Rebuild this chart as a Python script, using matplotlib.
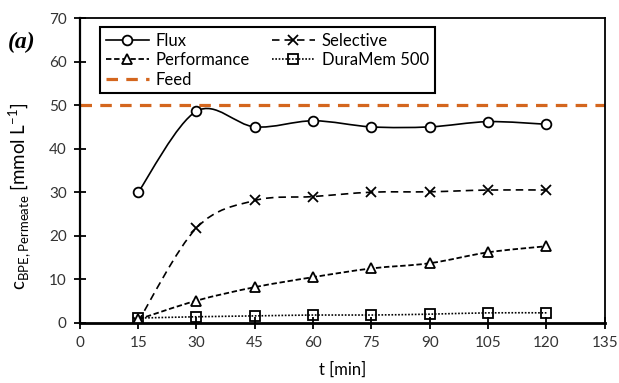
import matplotlib
matplotlib.use("Agg")
import matplotlib.pyplot as plt
from matplotlib.path import Path
from matplotlib.patches import PathPatch
from matplotlib.lines import Line2D
import numpy as np

t = [15, 30, 45, 60, 75, 90, 105, 120]
flux = [30.0, 48.6, 45.0, 46.4, 45.0, 45.0, 46.2, 45.6]
selective = [0.3, 21.8, 28.1, 29.0, 30.0, 30.1, 30.5, 30.5]
performance = [0.8, 5.1, 8.2, 10.5, 12.5, 13.7, 16.2, 17.6]
duramem = [1.1, 1.4, 1.6, 1.8, 1.8, 2.0, 2.3, 2.3]
feed = 50
xticks = [0, 15, 30, 45, 60, 75, 90, 105, 120, 135]
yticks = [0, 10, 20, 30, 40, 50, 60, 70]

plt.rcParams['font.family'] = ['Lato', 'DejaVu Sans']

fig = plt.figure(figsize=(6.19, 3.83), dpi=100)
ax = fig.add_axes([0.129, 0.157, 0.848, 0.796])


def smooth_path(x, y):
    pts = np.column_stack([x, y]).astype(float)
    n = len(pts)
    verts = [pts[0]]
    codes = [Path.MOVETO]
    for i in range(n - 1):
        p0 = pts[i - 1] if i > 0 else pts[i]
        p1 = pts[i]
        p2 = pts[i + 1]
        p3 = pts[i + 2] if i + 2 < n else pts[i + 1]
        c1 = p1 + (p2 - p0) / 6.0
        c2 = p2 - (p3 - p1) / 6.0
        verts += [c1, c2, p2]
        codes += [Path.CURVE4] * 3
    return Path(verts, codes)


series = [
    (flux, dict(ls='-', lw=1.2), dict(marker='o', ms=7)),
    (selective, dict(ls=(0, (4.5, 3)), lw=1.2), dict(marker='x', ms=7)),
    (performance, dict(ls=(0, (3, 1.5)), lw=1.3), dict(marker='^', ms=7)),
    (duramem, dict(ls=(0, (1, 1)), lw=1.2), dict(marker='s', ms=7)),
]

ax.axhline(feed, color='#D4661E', lw=2.3, ls=(0, (3.6, 2.6)), zorder=2)

for y, lstyle, mstyle in series:
    patch = PathPatch(smooth_path(t, y), facecolor='none', edgecolor='black',
                      linestyle=lstyle['ls'], linewidth=lstyle['lw'], zorder=3)
    ax.add_patch(patch)
    ax.plot(t, y, ls='none', color='black', mfc='white' if mstyle['marker'] != 's' else 'none',
            mec='black', mew=1.3, zorder=4, **mstyle)

ax.set_xlim(0, 135)
ax.set_ylim(0, 70)
ax.set_xticks(xticks)
ax.set_yticks(yticks)
ax.tick_params(direction='inout', length=9, width=1.3, labelsize=11, pad=5,
               labelcolor='#333333')
for s in ax.spines.values():
    s.set_linewidth(1.3)
ax.spines['bottom'].set_linewidth(2.0)
ax.spines['left'].set_linewidth(1.6)

ax.set_xlabel('t [min]', fontsize=12, labelpad=8)
ax.set_ylabel(r'c$_{\mathregular{BPE,Permeate}}$ [mmol L$^{\mathregular{-1}}$]', fontsize=13.5)
ax.yaxis.set_label_coords(-0.09, 0.415)

fig.text(0.012, 0.875, '(a)', fontsize=17, fontweight='bold', fontstyle='italic',
         family='Liberation Serif')

handles = [
    Line2D([], [], color='black', ls='-', lw=1.2, marker='o', ms=7, mfc='white', mew=1.3),
    Line2D([], [], color='black', ls=(0, (3, 1.5)), lw=1.3, marker='^', ms=7, mfc='white', mew=1.3),
    Line2D([], [], color='#D4661E', ls=(0, (3.6, 2.6)), lw=2.3),
    Line2D([], [], color='black', ls=(0, (4.5, 3)), lw=1.2, marker='x', ms=7, mew=1.3),
    Line2D([], [], color='black', ls=(0, (1, 1)), lw=1.2, marker='s', ms=7, mfc='none', mew=1.3),
]
labels = ['Flux', 'Performance', 'Feed', 'Selective', 'DuraMem 500']
leg = ax.legend(handles, labels, ncol=2, loc='upper left', bbox_to_anchor=(0.038, 0.970),
                borderaxespad=0, fontsize=12, handlelength=2.6, handletextpad=0.4,
                columnspacing=1.3, labelspacing=0.2, borderpad=0.35, fancybox=False,
                framealpha=1, edgecolor='black')
leg.get_frame().set_linewidth(1.5)

fig.savefig('out.png', dpi=100)
